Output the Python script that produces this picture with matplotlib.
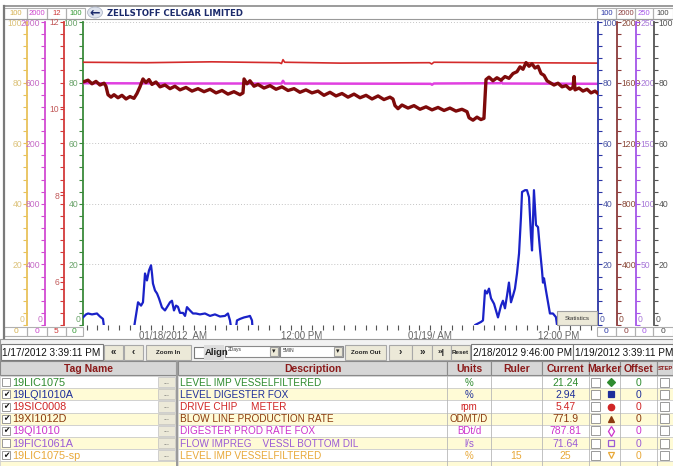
import numpy as np
import pandas as pd
import matplotlib
matplotlib.use("Agg")
import matplotlib.pyplot as plt
import matplotlib.dates as mdates
from matplotlib.patches import Rectangle, Ellipse

plt.rcParams['font.family'] = ['Liberation Sans', 'DejaVu Sans']

W, H = 673, 466
START = pd.Timestamp('2012-01-17 15:39:11')
END = pd.Timestamp('2012-01-19 15:39:11')

# ---- trend data (hours after START, value in the tag's own units) ----
blue_hours = [0.00, 0.28, 0.47, 0.84, 1.30, 1.58, 1.86, 2.05, 4.66, 5.13,
              5.41, 5.59, 5.78, 5.96, 6.15, 6.34, 6.43, 6.52, 6.71, 6.90,
              7.08, 7.36, 7.64, 7.92, 8.11, 8.29, 8.48, 8.67, 8.85, 9.04,
              9.32, 9.51, 9.69, 9.97, 10.25, 10.53, 10.90, 11.37, 11.84, 12.30,
              12.77, 13.23, 13.51, 13.70, 13.89, 14.17, 14.35, 14.63, 15.01, 15.38,
              15.56, 15.75, 15.84, 36.44, 36.54, 36.82, 37.09, 37.28, 37.47, 37.65,
              37.84, 38.03, 38.31, 38.49, 38.68, 38.96, 39.14, 39.33, 39.52, 39.70,
              39.89, 40.08, 40.26, 40.45, 40.64, 40.82, 40.92, 41.20, 41.38, 41.57,
              41.76, 41.85, 41.94, 42.03, 42.22, 42.41, 42.59, 42.78, 42.87, 42.97,
              43.15, 43.34, 43.52, 43.80, 44.08, 44.18, 44.27, 48.00]
blue_pct = [2.5, 3.5, 3.8, 3.5, 3.8, 2.8, 2.0, -3, -3, 7.5,
            6.4, 7.5, 17.0, 14.7, 18.0, 19.7, 17.0, 13.7, 11.4, 10.4,
            8.8, 5.8, 4.8, 6.4, 7.5, 8.0, 4.8, 6.4, 6.0, 4.0,
            4.0, 3.0, 5.9, 4.8, 3.8, 3.8, 3.5, 3.8, 3.0, 3.5,
            2.8, 3.0, 3.8, 1.5, -3, -3, 1.5, 2.0, 2.5, 2.8,
            3.0, 1.5, -3, -3, 0.0, 0.5, 1.0, 1.5, 11.4, 10.4,
            12.0, 8.8, 7.0, 4.8, 2.5, 6.4, 8.0, 5.5, 9.7, 14.0,
            7.5, 9.7, 12.0, 17.0, 23.6, 35.6, 43.9, 44.5, 44.5, 42.2,
            29.0, 24.6, 34.5, 44.5, 33.0, 32.3, 25.0, 18.0, 14.0, 15.4,
            11.4, 7.5, 3.8, 3.8, 2.6, 0.0, -3, -3]

brown_hours = [0.00, 0.47, 0.84, 1.21, 1.58, 1.96, 2.14, 2.33, 2.61, 2.89,
               3.26, 3.63, 4.01, 4.38, 4.75, 5.03, 5.31, 5.59, 5.87, 6.15,
               6.43, 6.80, 7.18, 7.64, 8.11, 8.57, 9.04, 9.60, 10.16, 10.72,
               11.28, 11.84, 12.40, 12.96, 13.51, 14.07, 14.63, 14.91, 15.01, 15.28,
               15.56, 15.94, 16.31, 16.87, 17.43, 17.99, 18.55, 19.11, 19.67, 20.22,
               20.78, 21.34, 21.90, 22.46, 23.02, 23.58, 24.14, 24.70, 25.26, 25.82,
               26.38, 26.94, 27.50, 28.05, 28.61, 28.89, 29.08, 29.36, 29.73, 30.29,
               30.85, 31.41, 31.97, 32.53, 33.09, 33.65, 34.20, 34.76, 35.32, 35.79,
               35.98, 36.35, 36.72, 37.09, 37.37, 37.56, 37.84, 38.21, 38.58, 38.96,
               39.33, 39.70, 40.08, 40.45, 40.73, 41.01, 41.29, 41.57, 41.85, 42.13,
               42.41, 42.69, 42.97, 43.25, 43.52, 43.90, 44.27, 44.65, 45.02, 45.39,
               45.67, 45.77, 45.86, 46.23, 46.60, 46.98, 47.35, 47.72, 48.00]
brown_odmt = [1604, 1616, 1592, 1608, 1584, 1596, 1576, 1520, 1504, 1520,
              1500, 1516, 1492, 1508, 1496, 1528, 1572, 1624, 1600, 1620,
              1588, 1604, 1572, 1584, 1560, 1576, 1552, 1568, 1544, 1560,
              1540, 1556, 1532, 1548, 1524, 1540, 1520, 1532, 1624, 1592,
              1612, 1576, 1588, 1564, 1580, 1556, 1572, 1548, 1560, 1536,
              1552, 1532, 1544, 1516, 1536, 1512, 1528, 1504, 1524, 1500,
              1516, 1492, 1512, 1488, 1504, 1492, 1448, 1428, 1452, 1432,
              1448, 1424, 1440, 1420, 1436, 1416, 1432, 1412, 1424, 1408,
              1368, 1352, 1372, 1356, 1364, 1620, 1636, 1612, 1632, 1616,
              1640, 1628, 1660, 1672, 1704, 1688, 1732, 1708, 1724, 1696,
              1708, 1660, 1648, 1612, 1600, 1584, 1596, 1572, 1580, 1556,
              1568, 1640, 1552, 1564, 1544, 1556, 1532, 1544, 1528]

red_hours = [0, 6, 12, 18.3, 18.5, 18.64, 18.8, 24, 32.3, 32.5, 32.7, 40, 48]
red_rpm = [11.07, 11.06, 11.08, 11.06, 11.04, 11.13, 11.07, 11.05, 11.06, 11.03, 11.07, 11.06, 11.05]

mag_hours = [0, 10, 18.5, 18.64, 18.8, 32.4, 32.53, 32.7, 38.9, 39.0, 39.1, 48]
mag_bdt = [1596, 1594, 1594, 1612, 1594, 1592, 1586, 1594, 1596, 1606, 1594, 1592]

# x axis labels
tick_times = ['2012-01-18 00:00', '2012-01-18 12:00', '2012-01-19 00:00', '2012-01-19 12:00']
tick_labels = ['01/18/2012  AM', '12:00 PM', '01/19/ AM', '12:00 PM']

# ---- tag table ----
tag_names = ['19LIC1075', '19LQI1010A', '19SIC0008', '19XI1012D', '19QI1010', '19FIC1061A', '19LIC1075-sp']
descriptions = ['LEVEL IMP VESSELFILTERED', 'LEVEL DIGESTER FOX', 'DRIVE CHIP     METER',
                'BLOW LINE PRODUCTION RATE', 'DIGESTER PROD RATE FOX',
                'FLOW IMPREG    VESSL BOTTOM DIL', 'LEVEL IMP VESSELFILTERED']
units = ['%', '%', 'rpm', 'ODMT/D', 'BDt/d', 'l/s', '%']
ruler = ['', '', '', '', '', '', '15']
current = ['21.24', '2.94', '5.47', '771.9', '787.81', '71.64', '25']
offsets = ['0', '0', '0', '0', '0', '0', '0']
checked = [False, True, True, True, True, False, True]
tag_colors = ['#2e8b2e', '#1f2f9a', '#d02525', '#8b3a0f', '#cc33cc', '#9a5bd6', '#e8a838']
marker_styles = [('D', True, 3.8), ('s', True, 4.2), ('o', True, 4.6), ('^', True, 4.8),
                 ('d', False, 5.0), ('s', False, 4.4), ('v', False, 5.0)]

# ---- figure ----
fig = plt.figure(figsize=(W / 100, H / 100), dpi=100)
ui = fig.add_axes([0, 0, 1, 1], zorder=-1)
ui.set_xlim(0, W)
ui.set_ylim(H, 0)
ui.axis('off')
top = fig.add_axes([0, 0, 1, 1], zorder=10)
top.set_xlim(0, W)
top.set_ylim(H, 0)
top.axis('off')
top.patch.set_visible(False)


def box(x0, y0, x1, y1, fc='none', ec='#9a9a9a', lw=0.8, a=ui, z=1):
    a.add_patch(Rectangle((x0, y0), x1 - x0, y1 - y0, facecolor=fc, edgecolor=ec, linewidth=lw, zorder=z))


def txt(x, y, s, a=ui, **kw):
    kw.setdefault('fontsize', 7)
    kw.setdefault('ha', 'center')
    kw.setdefault('va', 'center')
    kw.setdefault('zorder', 3)
    return a.text(x, y, s, **kw)


PL, PR, PT, PB = 83, 598, 22, 325
ax = fig.add_axes([PL / W, 1 - PB / H, (PR - PL) / W, (PB - PT) / H], zorder=2)
ax.patch.set_visible(False)
ax.set_ylim(0, 100)
ax.set_xlim(START, END)
for s in ['top', 'right', 'bottom']:
    ax.spines[s].set_visible(False)
ax.spines['left'].set_color('#3a8a3a')
ax.spines['left'].set_linewidth(1.3)
ax.set_yticks([0, 20, 40, 60, 80, 100])
ax.set_yticklabels(['', '20', '40', '60', '80', '100'])
ax.set_yticks(np.linspace(0, 100, 26), minor=True)
ax.tick_params(axis='y', which='both', colors='#3a8a3a', labelcolor='#6aa36a', length=3, width=0.8,
               labelsize=6.2, pad=0.5)
ax.grid(axis='y', which='major', linestyle=(0, (1, 2)), color='#c4c4c4', linewidth=0.7)
ax.set_xticks(pd.to_datetime(tick_times))
ax.set_xticklabels(tick_labels)
ax.xaxis.set_minor_locator(mdates.HourLocator())
ax.tick_params(axis='x', which='both', colors='#555555', labelcolor='#666666', length=3.5, width=0.8,
               labelsize=7, pad=1)


def scale_axis(side, pos, lo, hi, spine_c, text_c, ticks, labels):
    a = ax.twinx()
    a.set_ylim(lo, hi)
    for s in a.spines.values():
        s.set_visible(False)
    sp = a.spines[side]
    sp.set_visible(True)
    sp.set_position(('axes', pos))
    sp.set_color(spine_c)
    sp.set_linewidth(1.3)
    a.yaxis.set_ticks_position(side)
    a.set_yticks(ticks)
    a.set_yticklabels(labels)
    a.set_yticks(np.linspace(lo, hi, 26), minor=True)
    a.tick_params(axis='y', which='both', colors=spine_c, labelcolor=text_c, length=3, width=0.8,
                  labelsize=6.2, pad=0.5)
    return a


span = PR - PL
yellow_ax = scale_axis('left', (27 - PL) / span, 0, 100, '#e8c25a', '#dcc27a',
                       [0, 20, 40, 60, 80, 100], ['', '20', '40', '60', '80', '100'])
mag_ax = scale_axis('left', (45 - PL) / span, 0, 2000, '#d24ad2', '#c56ac5',
                    [0, 400, 800, 1200, 1600, 2000], ['', '400', '800', '200', '600', '2000'])
red_ax = scale_axis('left', (64 - PL) / span, 5, 12, '#d33a3a', '#c25a5a',
                    [6, 8, 10, 12], ['6', '8', '10', '12'])
blue_ax = scale_axis('right', 1.0, 0, 100, '#2a35a5', '#4a55a5',
                     [0, 20, 40, 60, 80, 100], ['', '20', '40', '60', '80', '100'])
brown_ax = scale_axis('right', (617 - PL) / span, 0, 2000, '#8b3a3a', '#8b4a3a',
                      [0, 400, 800, 1200, 1600, 2000], ['', '400', '800', '1200', '1600', '2000'])
purple_ax = scale_axis('right', (636 - PL) / span, 0, 250, '#a455e8', '#a878d8',
                       [0, 50, 100, 150, 200, 250], ['', '50', '100', '150', '200', '250'])
gray_ax = scale_axis('right', (654 - PL) / span, 0, 100, '#555555', '#555555',
                     [0, 20, 40, 60, 80, 100], ['', '20', '40', '60', '80', '100'])

# zero labels sit a little above the scale foot, as in the trend viewer
for x, c, ha in [(25, '#dcc27a', 'right'), (43, '#c56ac5', 'right'), (81, '#6aa36a', 'right'),
                 (600, '#4a55a5', 'left'), (619, '#8b4a3a', 'left'), (638, '#a878d8', 'left'),
                 (656, '#555555', 'left')]:
    txt(x, 320, '0', ha=ha, fontsize=6.2, color=c)


def times(hours):
    return START + pd.to_timedelta(hours, unit='h')


mag_ax.plot(times(mag_hours), mag_bdt, color='#e040e0', linewidth=1.8)
red_ax.plot(times(red_hours), red_rpm, color='#d42a2a', linewidth=1.2)
brown_ax.plot(times(brown_hours), brown_odmt, color='#7e0a0a', linewidth=2.4)
blue_ax.plot(times(blue_hours), blue_pct, color='#1a22c8', linewidth=1.6)

# ---- header ----
ui.plot([4, W], [5.5, 5.5], color='#8a8a8a', linewidth=1.2)
ui.plot([4, W], [19, 19], color='#9a9a9a', linewidth=0.8)
ui.plot([4, 4], [5.5, 338], color='#7a7a7a', linewidth=1.6)
hdr_left = [(4, 27, '100', '#d4b050'), (27, 47, '2000', '#cc44cc'), (47, 66, '12', '#cc3333'), (66, 85, '100', '#339933')]
for x0, x1, s, c in hdr_left:
    box(x0, 8, x1, 19, ec='#b0b0b0')
    txt((x0 + x1) / 2, 13.5, s, color=c, fontsize=5.5)
hdr_right = [(597, 616, '100', '#2a35a5'), (616, 635, '2000', '#8b3a3a'), (635, 653, '250', '#a455e8'), (653, 673, '100', '#444444')]
for x0, x1, s, c in hdr_right:
    box(x0, 8, x1, 19, ec='#b0b0b0')
    txt((x0 + x1) / 2, 13.5, s, color=c, fontsize=5.5)
ui.add_patch(Ellipse((95, 12.5), 15, 11, facecolor='#dfe4ee', edgecolor='#b0b8c8', linewidth=0.6, zorder=2))
txt(95, 12.5, '\u2190', color='#1b2a6b', fontsize=9, fontweight='bold', family='DejaVu Sans')
txt(107, 13, 'ZELLSTOFF CELGAR LIMITED', ha='left', color='#1b2a6b', fontsize=6.8, fontweight='bold',
    family='DejaVu Sans', fontstretch='condensed')

# ---- bottom scale boxes ----
bot_left = [(4, 27, '0', '#d4b050'), (27, 47, '0', '#cc44cc'), (47, 66, '5', '#cc3333'), (66, 83, '0', '#339933')]
for x0, x1, s, c in bot_left:
    box(x0, 327, x1, 336, ec='#b0b0b0')
    txt((x0 + x1) / 2, 331.5, s, color=c, fontsize=6)
bot_right = [(597, 616, '0', '#2a35a5'), (616, 635, '0', '#8b3a3a'), (635, 653, '0', '#a455e8'), (653, 673, '0', '#444444')]
for x0, x1, s, c in bot_right:
    box(x0, 327, x1, 336, ec='#b0b0b0')
    txt((x0 + x1) / 2, 331.5, s, color=c, fontsize=6)
box(557, 311, 597, 324.5, fc='#ece9d8', ec='#a0a0a0', a=top)
txt(577, 318, 'Statistics', a=top, fontsize=4.5, color='#333333')

# ---- control bar ----
box(0, 338.5, W, 361, fc='#f2f2f2', ec='#9a9a9a', lw=0.8, z=0)
box(1, 344, 103, 360, fc='white', ec='#7a7a7a')
txt(2, 352.5, '1/17/2012 3:39:11 PM', ha='left', fontsize=7.2, color='#111111')
buttons = [(104, 123, '\u00ab', 7, 'bold'), (124, 143, '\u2039', 7, 'bold'), (146, 191, 'Zoom In', 4.5, 'bold'),
           (345, 386, 'Zoom Out', 4.5, 'bold'), (389, 412, '\u203a', 7, 'bold'), (412, 432, '\u00bb', 7, 'bold'),
           (432, 451, '\u00bb|', 6, 'bold'), (451, 470, 'Reset', 4.5, 'bold')]
for x0, x1, s, fs, fw in buttons:
    box(x0, 345, x1, 360, fc='#ece9d8', ec='#a8a8a8')
    txt((x0 + x1) / 2, 352.5, s, fontsize=fs, fontweight=fw, color='#222222')
box(194, 347, 204, 358, fc='white', ec='#7a7a7a')
box(204, 345, 224, 360, fc='#dcdcdc', ec='none')
txt(205, 352.5, 'Align', ha='left', fontsize=6.8, fontweight='bold', color='#222222')
for x0, x1, s in [(225, 279, '2Days'), (280, 343, '5MIN')]:
    box(x0, 346, x1, 357, fc='white', ec='#8a8a8a')
    box(x1 - 9, 347, x1 - 1, 356, fc='#ece9d8', ec='#a0a0a0')
    txt(x1 - 5, 351.5, '\u25be', fontsize=5, color='#222222', family='DejaVu Sans')
    txt(x0 + 3, 350, s, ha='left', fontsize=3.5, color='#333333')
box(471, 344, 573, 360, fc='white', ec='#7a7a7a')
txt(473, 352.5, '2/18/2012 9:46:00 PM', ha='left', fontsize=7.2, color='#111111')
box(573, 344, 673, 360, fc='white', ec='#7a7a7a')
txt(575, 352.5, '1/19/2012 3:39:11 PM', ha='left', fontsize=7.2, color='#111111')

# ---- table ----
HY0, HY1 = 361, 375
cols = [(0, 176, 'Tag Name'), (178, 447, 'Description'), (447, 491, 'Units'), (491, 542, 'Ruler'),
        (542, 589, 'Current'), (589, 620, 'Marker'), (620, 657, 'Offset'), (657, 673, 'STEP')]
for x0, x1, s in cols:
    box(x0, HY0, x1, HY1, fc='#d6d6d6', ec='#8a8a8a')
    narrow = x1 - x0 < 30
    t = txt((x0 + x1) / 2, (HY0 + HY1) / 2 + 0.5, s, fontsize=4.2 if narrow else 7.5,
            fontweight='bold', color='#8b1a1a')
    t.set_clip_path(Rectangle((x0, HY0), x1 - x0, HY1 - HY0, transform=ui.transData))
box(176, HY0, 178, H, fc='#9a9a9a', ec='none')

RH = 12.2
n_rows = len(tag_names)
for i in range(n_rows + 1):
    y0 = HY1 + 1 + RH * i
    y1 = y0 + RH
    bg = 'white' if i % 2 == 0 else '#fffbd6'
    box(0, y0, 176, y1, fc=bg, ec='#c8c8c8', lw=0.5, z=0.5)
    box(178, y0, W, y1, fc=bg, ec='#c8c8c8', lw=0.5, z=0.5)
    for xs in [447, 491, 542, 589, 620, 657]:
        ui.plot([xs, xs], [y0, y1], color='#b8b8b8', linewidth=0.6, zorder=0.8)
    if i >= n_rows:
        continue
    yc = y0 + RH / 2
    box(2, yc - 4, 10, yc + 4, fc='white', ec='#8a8a8a', lw=0.6)
    if checked[i]:
        txt(6, yc, '\u2714', fontsize=5.5, color='#111111', family='DejaVu Sans')
    c = tag_colors[i]
    txt(12, yc + 0.5, tag_names[i], ha='left', fontsize=7.8, color=c)
    box(158, y0 + 1, 175, y1 - 1, fc='#ece9d8', ec='#c0c0c0', lw=0.5)
    txt(166.5, yc, '...', fontsize=5, color='#555555')
    txt(180, yc + 0.5, descriptions[i], ha='left', fontsize=7.2, color=c)
    txt(469, yc + 0.5, units[i], fontsize=7, color=c)
    txt(516.5, yc + 0.5, ruler[i], fontsize=7.5, color=c)
    txt(565.5, yc + 0.5, current[i], fontsize=7.5, color=c)
    txt(638.5, yc + 0.5, offsets[i], fontsize=7.5, color=c)
    box(591, yc - 4.5, 600, yc + 4.5, fc='white', ec='#8a8a8a', lw=0.6)
    box(660, yc - 4.5, 669, yc + 4.5, fc='white', ec='#8a8a8a', lw=0.6)
    m, filled, ms = marker_styles[i]
    ui.plot([610.5], [yc], marker=m, markersize=ms, color=c,
            markerfacecolor=c if filled else 'none', markeredgewidth=0.9, zorder=4)

fig.savefig('out.png', dpi=100)
